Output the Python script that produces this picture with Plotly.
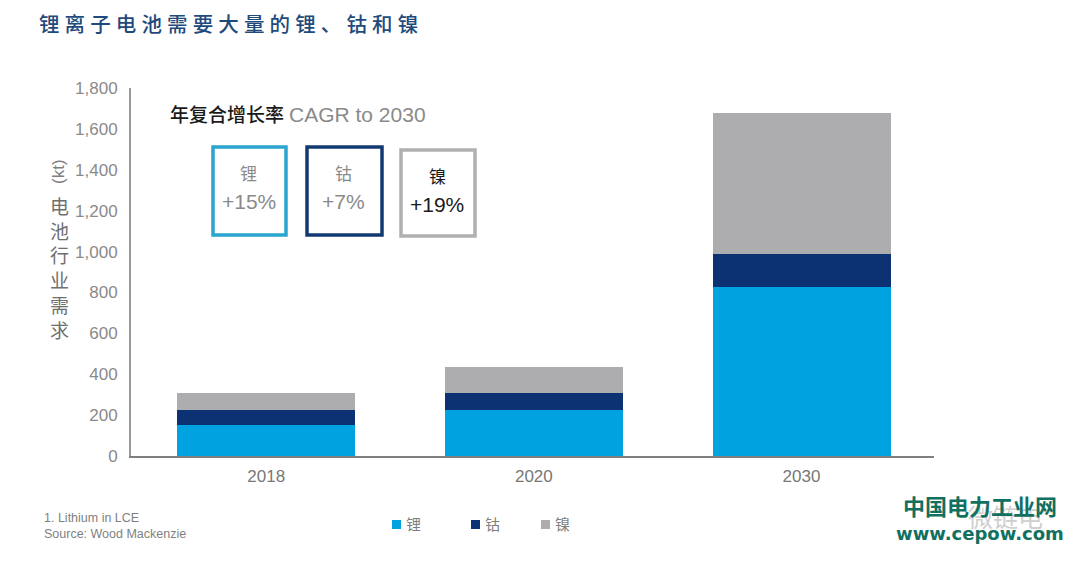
# Battery demand for lithium, cobalt and nickel: stacked bars with CAGR boxes
import plotly.graph_objects as go

WIDTH = 1080
HEIGHT = 563
CJK = "Noto Sans CJK SC"
LATIN = "Liberation Sans"

years = ["2018", "2020", "2030"]
lithium = [152, 225, 827]
cobalt = [73, 83, 161]
nickel = [83, 127, 690]

series_names = ["锂", "钴", "镍"]
series_colors = ["#00a3e0", "#0c3274", "#adadaf"]

y_ticks = [0, 200, 400, 600, 800, 1000, 1200, 1400, 1600, 1800]

title_text = "锂离子电池需要大量的锂、钴和镍"
cagr_labels = ["+15%", "+7%", "+19%"]

# plot area, in page pixels
LEFT, RIGHT, TOP, BOTTOM = 131, 934, 88, 456


def px(x):
    return (x - LEFT) / (RIGHT - LEFT)


def py(y):
    return (BOTTOM - y) / (BOTTOM - TOP)


def add_text(fig, x, y, text, size, color, family=CJK, xanchor="center", align="center", textangle=0, weight=None):
    fig.add_annotation(
        x=px(x), y=py(y), xref="paper", yref="paper",
        text=text, showarrow=False, xanchor=xanchor, yanchor="middle", align=align,
        textangle=textangle, borderpad=0,
        font=dict(family=family, size=size, color=color, weight=weight),
    )


fig = go.Figure()

for name, values, color in zip(series_names, [lithium, cobalt, nickel], series_colors):
    fig.add_trace(go.Bar(
        x=years, y=values, name=name, width=0.665,
        marker=dict(color=color, line=dict(width=0)),
    ))

fig.update_layout(
    width=WIDTH, height=HEIGHT,
    barmode="stack",
    showlegend=False,
    paper_bgcolor="white", plot_bgcolor="white",
    margin=dict(l=LEFT, r=WIDTH - RIGHT, t=TOP, b=HEIGHT - BOTTOM, autoexpand=False, pad=0),
    font=dict(family=LATIN, color="#6f6f6f"),
    xaxis=dict(
        type="category", range=[-0.505, 2.495], showgrid=False, ticks="", showline=True,
        linecolor="#7f7f7f", linewidth=2,
        tickfont=dict(size=17, color="#777777"), ticklabelstandoff=4,
    ),
    yaxis=dict(
        range=[0, 1800], tickvals=y_ticks, tickformat=",d", showgrid=False, zeroline=False, ticks="",
        showline=True, linecolor="#9a9a9a", linewidth=2,
        tickfont=dict(size=17, color="#8a8a8a"), ticklabelstandoff=8,
    ),
)

# title, spaced out with quarter-em spaces
add_text(fig, 38, 23, "\u2005".join(title_text), 20.5, "#1f4a7c", xanchor="left", weight=500)

# vertical axis title
add_text(fig, 58, 172, "(kt)", 17, "#7f7f7f", family=LATIN, textangle=-90)
add_text(fig, 59, 267, "<br>".join("电池行业需求"), 19, "#6f6f6f")

# CAGR heading
add_text(fig, 169, 113, "年复合增长率", 19, "#1a1a1a", xanchor="left", weight=500)
add_text(fig, 288, 114, "CAGR to 2030", 21, "#8a8a8a", family=LATIN, xanchor="left")

# CAGR boxes
boxes = [(213, 286, 147, 235), (307, 382, 147, 235), (401, 475, 150, 236)]
box_colors = ["#2aa5cf", "#123a72", "#b0b0b0"]
text_colors = ["#8a8a8a", "#8a8a8a", "#1a1a1a"]
for (x0, x1, y0, y1), edge, name, label, tc in zip(boxes, box_colors, series_names, cagr_labels, text_colors):
    fig.add_shape(
        type="rect", xref="paper", yref="paper",
        x0=px(x0), x1=px(x1), y0=py(y0), y1=py(y1),
        line=dict(color=edge, width=3.5), fillcolor="white",
    )
    mid = (x0 + x1) / 2 - 1
    add_text(fig, mid, y0 + 25, name, 17, tc)
    add_text(fig, mid, y0 + 54, label, 21, tc, family=LATIN)

# legend keys, spaced as in the original
legend_x = [392, 471, 541]
for x, name, color in zip(legend_x, series_names, series_colors):
    fig.add_shape(
        type="rect", xref="paper", yref="paper",
        x0=px(x), x1=px(x + 9), y0=py(520), y1=py(529),
        line=dict(width=0), fillcolor=color,
    )
    add_text(fig, x + 13, 523, name, 15, "#7f7f7f", xanchor="left")

# footnote
add_text(fig, 43, 526, "1. Lithium in LCE<br>Source: Wood Mackenzie", 12.5, "#7f7f7f", family=LATIN, xanchor="left", align="left")

# watermark
add_text(fig, 1006, 516, "微链电", 25, "#cfcfcf")
add_text(fig, 980, 505, "中国电力工业网", 22, "#11705f", weight=700)
add_text(fig, 980, 533, "www.cepow.com", 18, "#11705f", family="DejaVu Sans", weight=700)

fig.write_html(
    "out.html",
    config=dict(displayModeBar=False),
    post_script="document.body.style.margin = '0';",
)
